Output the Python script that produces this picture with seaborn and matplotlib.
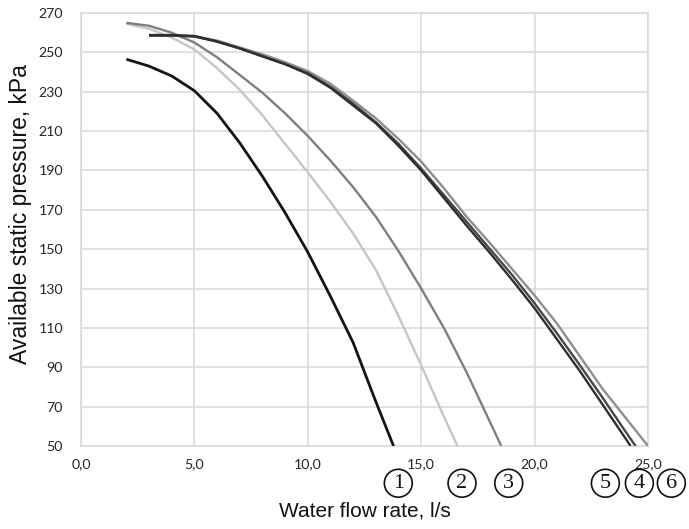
import matplotlib
matplotlib.use("Agg")
import matplotlib.pyplot as plt
import matplotlib.transforms as mtransforms
import seaborn as sns
import pandas as pd

# ---------------- data ----------------
flow_1 = [2, 3, 4, 5, 6, 7, 8, 9, 10, 11, 12, 13, 13.78]
press_1 = [246.5, 243, 238, 230.5, 219, 204, 187, 168.5, 148.5, 126, 102.5, 72.5, 50]

flow_2 = [2, 3, 4, 5, 6, 7, 8, 9, 10, 11, 12, 13, 14, 15, 16, 16.6]
press_2 = [264.5, 262, 257.5, 251.5, 242, 231, 218, 203.5, 189, 174, 158, 139.5, 116, 91, 65, 50]

flow_3 = [2, 3, 4, 5, 6, 7, 8, 9, 10, 11, 12, 13, 14, 15, 16, 17, 18, 18.53]
press_3 = [265, 263.5, 260, 255, 247.5, 238.5, 229.5, 219, 207.5, 195, 181.5, 166.5, 149, 130, 110, 87.5, 63, 50]

flow_4 = [3, 4, 5, 6, 7, 8, 9, 10, 11, 12, 13, 14, 15, 16, 17, 18, 19, 20, 21, 22, 23, 24, 24.45]
press_4 = [258.5, 258.5, 258, 255.5, 252, 248, 244, 239.5, 232.5, 224, 214.5, 203.5, 191, 177.5,
           164, 150.5, 137, 122.5, 107, 91, 74.5, 57.5, 50]

flow_5 = [3, 4, 5, 6, 7, 8, 9, 10, 11, 12, 13, 14, 15, 16, 17, 18, 19, 20, 21, 22, 23, 24, 24.23]
press_5 = [258.8, 258.8, 258.3, 255.5, 252, 248, 244, 239, 232, 223, 214, 202.5, 190, 176,
           162, 148.5, 134.5, 120, 104, 88, 71, 54, 50]

flow_6 = [3, 4, 5, 6, 7, 8, 9, 10, 11, 12, 13, 14, 15, 16, 17, 18, 19, 20, 21, 22, 23, 24, 25]
press_6 = [258.5, 258.5, 258.3, 256, 252.5, 249, 245, 240.5, 234, 225.5, 216.5, 206, 194.5, 181,
           166.5, 153.5, 140, 126.5, 112, 95.5, 79, 64.5, 50]

curve_names = ["1", "2", "3", "4", "5", "6"]

x_ticks = [0, 5, 10, 15, 20, 25]
x_tick_labels = ["0,0", "5,0", "10,0", "15,0", "20,0", "25,0"]
y_ticks = [50, 70, 90, 110, 130, 150, 170, 190, 210, 230, 250, 270]

x_label = "Water flow rate, l/s"
y_label = "Available static pressure, kPa"

# ---------------- styles / layout ----------------
colors = {"1": "#141414", "2": "#c6c6c6", "3": "#7f7f7f",
          "4": "#474747", "5": "#2e2e2e", "6": "#8e8e8e"}
widths = {"1": 2.0, "2": 1.7, "3": 1.7, "4": 1.7, "5": 1.7, "6": 1.7}
draw_order = ["2", "3", "6", "4", "5", "1"]
badge_x = {"1": 13.99, "2": 16.8, "3": 18.86, "5": 23.12, "4": 24.62, "6": 26.03}

flows = [flow_1, flow_2, flow_3, flow_4, flow_5, flow_6]
presses = [press_1, press_2, press_3, press_4, press_5, press_6]
frames = []
for name, fx, py in zip(curve_names, flows, presses):
    frames.append(pd.DataFrame({"flow": fx, "pressure": py, "curve": name}))
df = pd.concat(frames, ignore_index=True)

sns.set_style("white")
plt.rcParams["font.family"] = ["Lato", "DejaVu Sans"]

fig = plt.figure(figsize=(6.89, 5.29), dpi=100)
ax = fig.add_axes([81 / 689, 1 - 446 / 529, 567 / 689, 433 / 529])

for name in draw_order:
    sub = df[df["curve"] == name]
    sns.lineplot(data=sub, x="flow", y="pressure", color=colors[name],
                 linewidth=widths[name], estimator=None, sort=False, ax=ax,
                 legend=False, solid_capstyle="butt", zorder=3)

ax.set_xlim(0, 25)
ax.set_ylim(50, 270)
ax.set_xticks(x_ticks)
ax.set_xticklabels(x_tick_labels)
ax.set_yticks(y_ticks)
ax.set_yticklabels([str(v) for v in y_ticks])

grid_c = "#d9d9d9"
ax.grid(True, color=grid_c, linewidth=1.1, zorder=0)
ax.set_axisbelow(True)
for s in ax.spines.values():
    s.set_color(grid_c)
    s.set_linewidth(1.1)

ax.tick_params(axis="x", length=0, pad=8.5, labelsize=10.2, labelcolor="#262626")
ax.tick_params(axis="y", length=4, width=1.0, color=grid_c, pad=9,
               labelsize=10.2, labelcolor="#262626", direction="out")

ax.set_xlabel(x_label, fontsize=15, family=["Liberation Sans", "DejaVu Sans"], color="#111111")
ax.set_ylabel(y_label, fontsize=16.5, family=["Liberation Sans", "DejaVu Sans"], color="#111111")
ax.xaxis.set_label_coords(0.5, -0.128)
ax.yaxis.set_label_coords(-0.087, 0.536)

trans = mtransforms.blended_transform_factory(ax.transData, ax.transAxes)
for name in curve_names:
    ax.text(badge_x[name], -0.086, name, transform=trans, ha="center", va="center",
            fontsize=16, family=["Liberation Serif", "DejaVu Serif"], color="#111111",
            clip_on=False,
            bbox=dict(boxstyle="circle,pad=0.2", facecolor="white",
                      edgecolor="#111111", linewidth=1.2))

fig.savefig("out.png", dpi=100)
